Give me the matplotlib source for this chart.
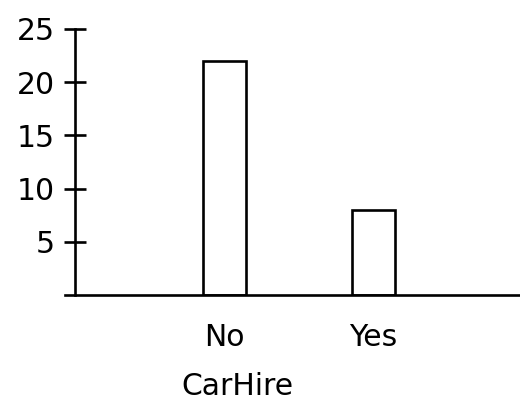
import numpy as np
from matplotlib import pyplot as plt

categories = ['No', 'Yes']
counts = [22, 8]
yticks = [5, 10, 15, 20, 25]

plt.rcParams['font.family'] = ['DejaVu Sans']
fs = 21.5
lw = 1.9

fig = plt.figure(figsize=(5.2, 4.05), dpi=100)
ax = fig.add_axes([65 / 520, 110 / 405, 455 / 520, 266 / 405])

x = np.arange(len(categories))
ax.bar(x, counts, width=0.29, color='white', edgecolor='black', linewidth=lw)

ax.set_xlim(-1.07, 1.983)
ax.set_ylim(0, 25)
ax.spines['top'].set_visible(False)
ax.spines['right'].set_visible(False)
ax.spines['left'].set_position(('data', -1.003))
ax.spines['left'].set_linewidth(lw)
ax.spines['bottom'].set_linewidth(lw)

ax.set_yticks(yticks)
ax.set_yticklabels([str(t) for t in yticks], fontsize=fs)
ax.tick_params(axis='y', direction='inout', length=16, width=lw, pad=6.5)

ax.set_xticks(x)
ax.set_xticklabels(categories, fontsize=fs)
ax.tick_params(axis='x', length=0, pad=20)

ax.set_xlabel('CarHire', fontsize=fs)
ax.xaxis.set_label_coords((237 - 65) / 455, -0.29)

plt.savefig('out.png')
